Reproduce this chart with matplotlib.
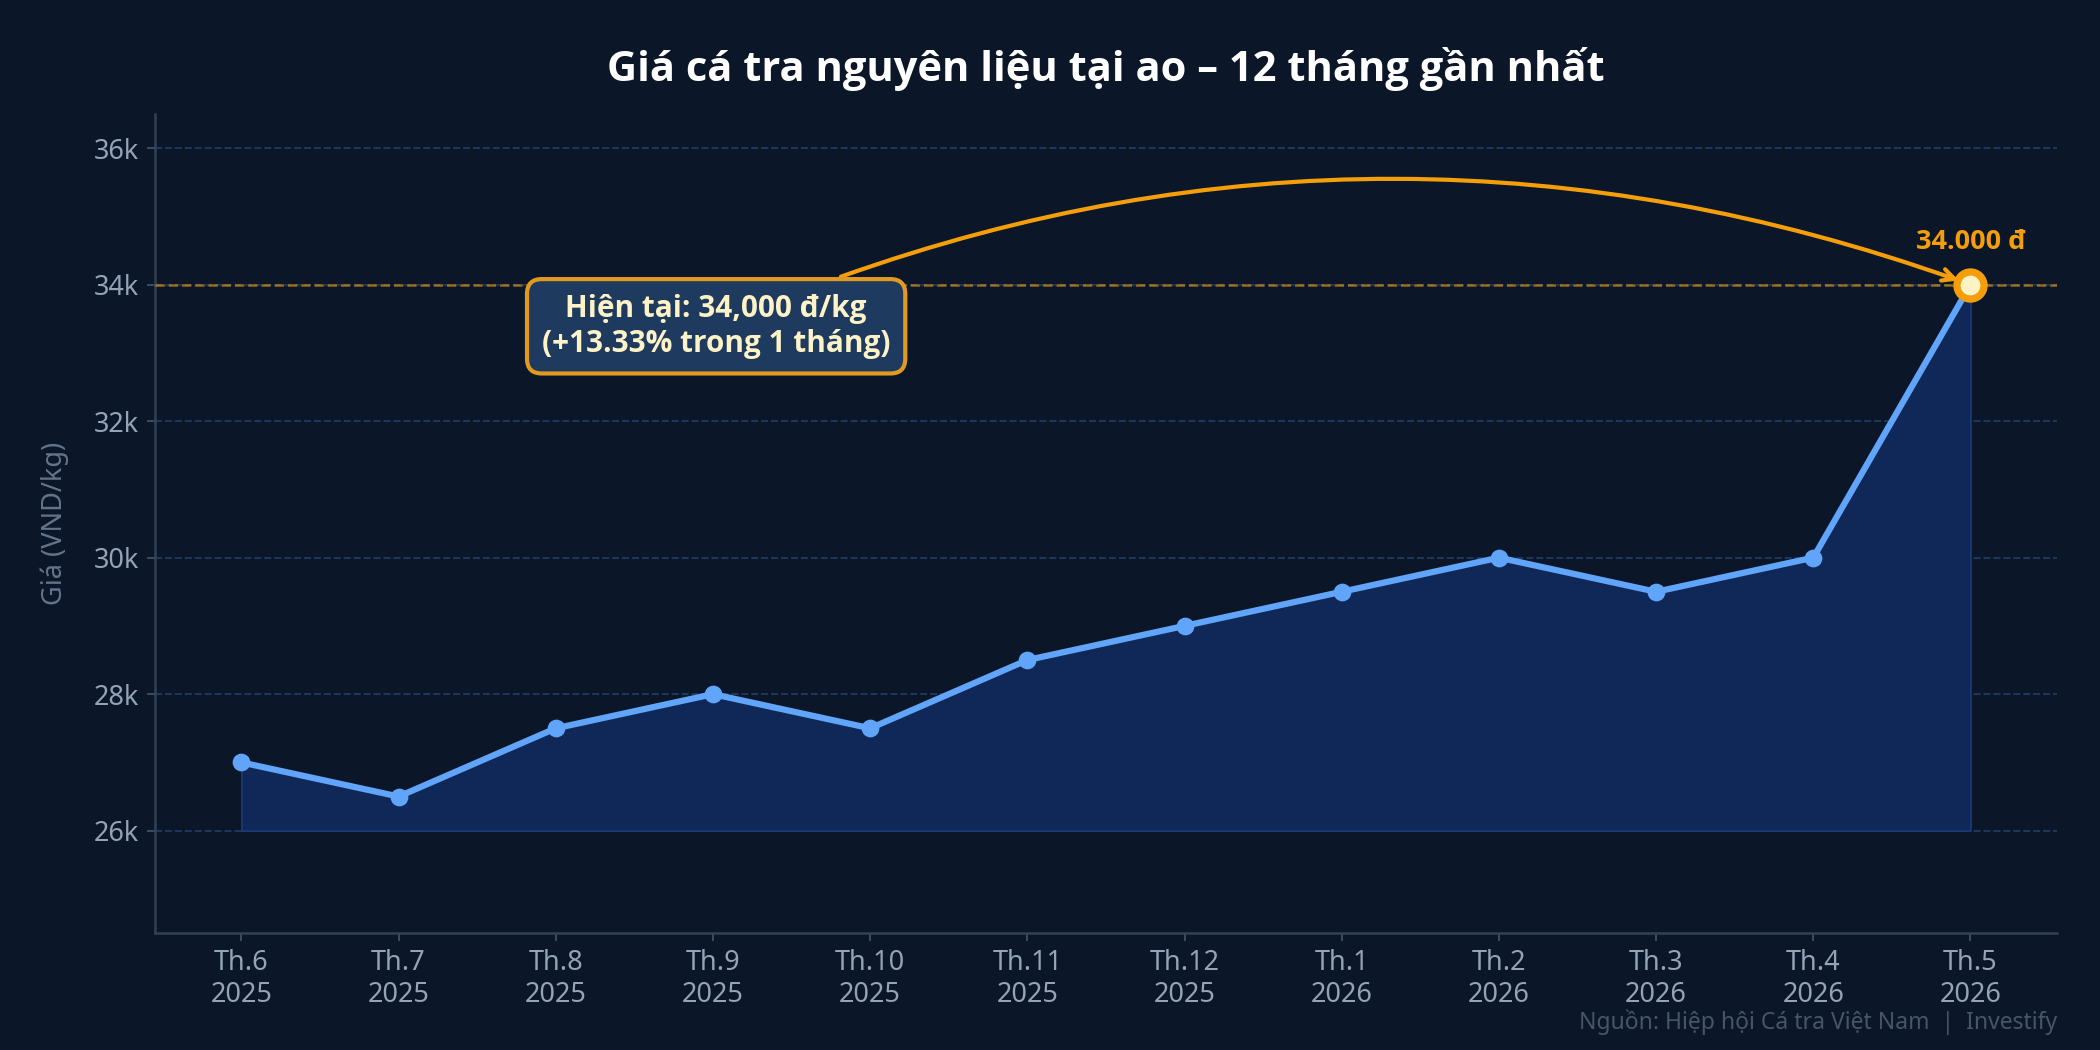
import matplotlib.pyplot as plt

plt.rcParams['font.family'] = ['Noto Sans', 'DejaVu Sans']
bold_font = ['Open Sans', 'Noto Sans CJK SC', 'DejaVu Sans']

months = ['Th.6', 'Th.7', 'Th.8', 'Th.9', 'Th.10', 'Th.11', 'Th.12', 'Th.1', 'Th.2', 'Th.3', 'Th.4', 'Th.5']
years = ['2025'] * 7 + ['2026'] * 5
prices = [27000, 26500, 27500, 28000, 27500, 28500, 29000, 29500, 30000, 29500, 30000, 34000]
base = 26000
yticks = [26000, 28000, 30000, 32000, 34000, 36000]

bg = '#0b1628'
line_c = '#60a5fa'
orange = '#f59e0b'
tick_c = '#94a3b8'

fig, ax = plt.subplots(figsize=(14, 7), dpi=150)
fig.patch.set_facecolor(bg)
ax.set_facecolor(bg)
fig.subplots_adjust(left=0.0738, right=0.9795, top=0.8914, bottom=0.1114)

x = list(range(len(prices)))
ax.fill_between(x, prices, base, facecolor='#0f2857', edgecolor='#1a3a7a', lw=0.8, zorder=2)
ax.plot(x, prices, color=line_c, lw=3, marker='o', ms=7.5, zorder=4)
ax.plot(x[-1], prices[-1], marker='o', ms=13, mfc='#fef3c7', mec=orange, mew=3.5, zorder=5)

ax.axhline(prices[-1], color=orange, ls='--', lw=1.2, alpha=0.6, zorder=3)

ax.set_xlim(-0.55, 11.55)
ax.set_ylim(24500, 36500)
ax.set_yticks(yticks)
ax.set_yticklabels(['%dk' % (v // 1000) for v in yticks])
ax.set_xticks(x)
ax.set_xticklabels([m + '\n' + y for m, y in zip(months, years)])
ax.tick_params(colors=tick_c, labelsize=13, length=4)
ax.tick_params(axis='x', colors='#475569', labelcolor=tick_c)
ax.tick_params(axis='y', colors='#475569', labelcolor=tick_c)

ax.grid(axis='y', color='#1e3a5f', ls='--', lw=0.9, zorder=1)
ax.grid(axis='x', visible=False)
for s in ['top', 'right']:
    ax.spines[s].set_visible(False)
for s in ['left', 'bottom']:
    ax.spines[s].set_color('#334155')
    ax.spines[s].set_linewidth(1.2)

ax.set_ylabel('Giá (VND/kg)', color='#64748b', fontsize=13, labelpad=12)
ax.set_title('Giá cá tra nguyên liệu tại ao – 12 tháng gần nhất', color='white',
             fontsize=20, fontweight='bold', family=bold_font, pad=16)

pct = (prices[-1] - prices[-2]) / prices[-2] * 100
ax.annotate('Hiện tại: {:,} đ/kg\n(+{:.2f}% trong 1 tháng)'.format(prices[-1], pct),
            xy=(x[-1], prices[-1]), xytext=(3.02, 33390),
            ha='center', va='center', fontsize=14.3, fontweight='bold', family=bold_font,
            color='#fef3c7',
            bbox=dict(boxstyle='round,pad=0.5', fc='#1e3a5f', ec='#e09a20', lw=2),
            arrowprops=dict(arrowstyle='->', color=orange, lw=2,
                            connectionstyle='arc3,rad=-0.2', shrinkB=6),
            zorder=6)

ax.text(x[-1], prices[-1] + 620, '{:,} đ'.format(prices[-1]).replace(',', '.'),
        ha='center', va='center', color=orange, fontsize=13, fontweight='bold',
        family=bold_font, zorder=6)

fig.text(0.9795, 1 - 1022 / 1050, 'Nguồn: Hiệp hội Cá tra Việt Nam  |  Investify',
         ha='right', va='center', color='#475569', fontsize=11)

fig.savefig('out.png', dpi=150, facecolor=bg)
